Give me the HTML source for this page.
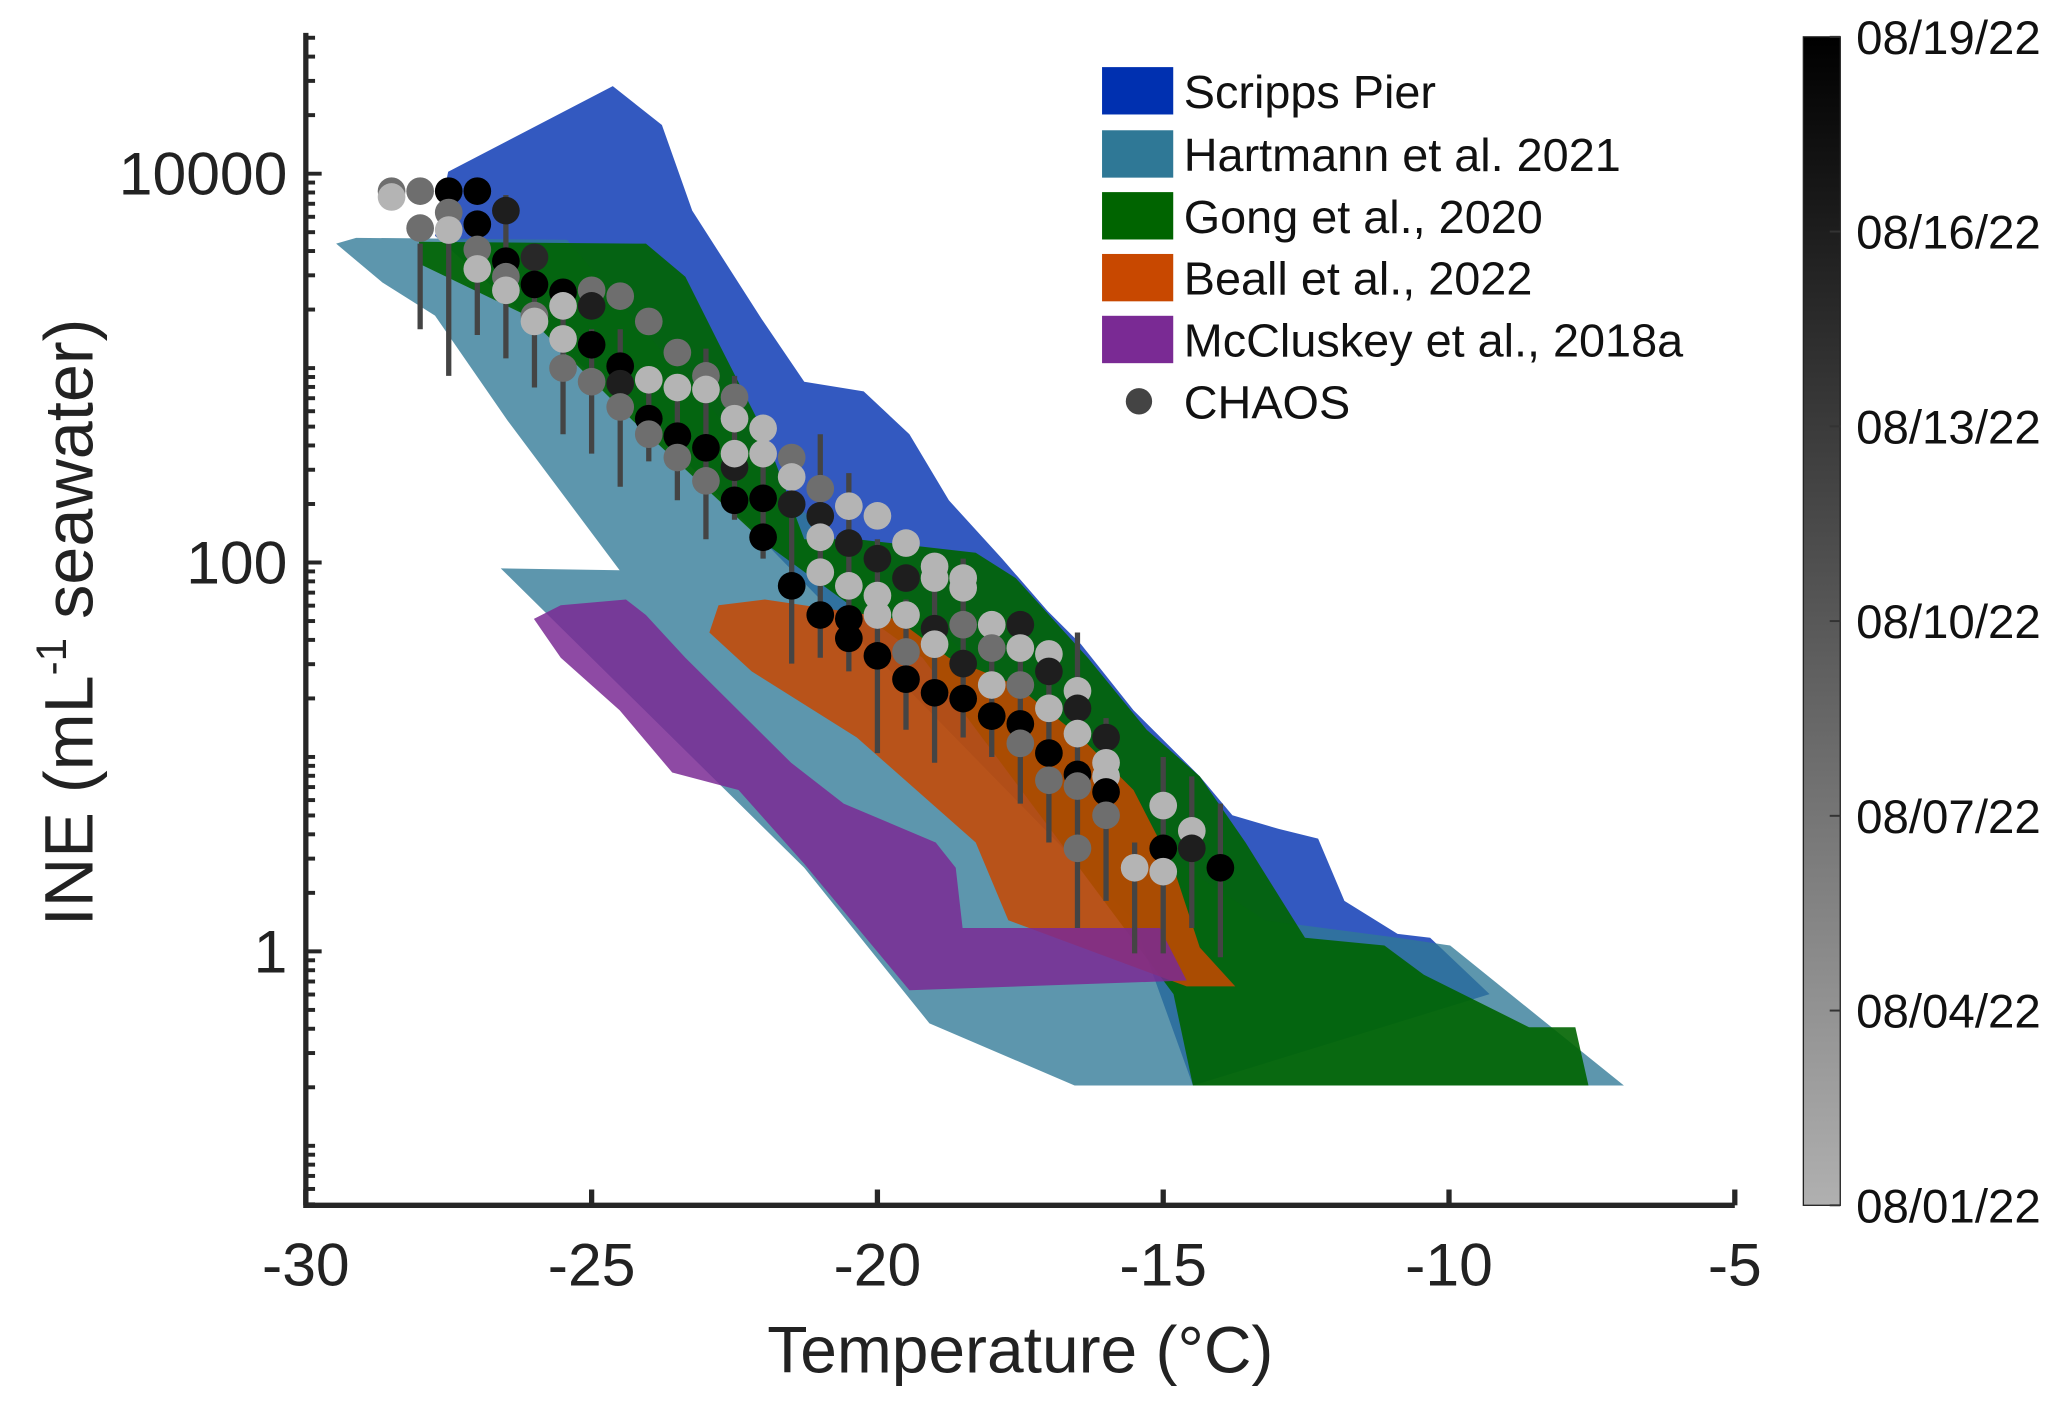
<!DOCTYPE html>
<html><head><meta charset="utf-8"><style>
html,body{margin:0;padding:0;background:#fff;}
svg{display:block;font-family:"Liberation Sans",Arial,sans-serif;}
</style></head><body>
<svg id="chart" width="2067" height="1404" viewBox="0 0 1568 1067" preserveAspectRatio="none" xmlns="http://www.w3.org/2000/svg">
<g id="regions"></g>
<g id="bars"></g>
<g id="points"></g>
<g id="axes"></g>
<g font-size="35.5" fill="#111">
 <rect x="836" y="51" width="54" height="36" fill="#0030b0"/>
 <text x="898" y="82">Scripps Pier</text>
 <rect x="836" y="99" width="54" height="36" fill="#2f7896"/>
 <text x="898" y="130">Hartmann et al. 2021</text>
 <rect x="836" y="146" width="54" height="36" fill="#006400"/>
 <text x="898" y="177">Gong et al., 2020</text>
 <rect x="836" y="193" width="54" height="36" fill="#c84800"/>
 <text x="898" y="224">Beall et al., 2022</text>
 <rect x="836" y="240" width="54" height="36" fill="#7a2a94"/>
 <text x="898" y="271">McCluskey et al., 2018a</text>
 <circle cx="864" cy="305" r="10" fill="#444"/>
 <text x="898" y="318">CHAOS</text>
</g>
<defs><linearGradient id="cbg" x1="0" y1="1" x2="0" y2="0"><stop offset="0" stop-color="#b0b0b0"/><stop offset="1" stop-color="#000"/></linearGradient></defs>
<g id="colorbar">
 <rect x="1368" y="28" width="28" height="888" fill="url(#cbg)" stroke="#222" stroke-width="1"/>
</g>
</svg>
<script>
const NS="http://www.w3.org/2000/svg";
// axis domains
const xDomain=[-30,-5];
const yLogDomain=[-1.306,4.724];
const xTicks=[-30,-25,-20,-15,-10,-5];
const yTicks=[1,100,10000];
const yTickLabels=["1","100","10000"];
const cbLabels=["08/01/22","08/04/22","08/07/22","08/10/22","08/13/22","08/16/22","08/19/22"];
// region polygons: temperature (°C) and log10(INE)
const scrippsT=[-27.51,-24.63,-23.77,-23.24,-22.02,-21.28,-20.24,-19.44,-18.75,-17.82,-17.02,-16.44,-15.52,-14.36,-13.79,-12.98,-12.29,-11.83,-10.90,-10.33,-9.29,-14.48,-15.52,-23.82,-27.74];
const scrippsL=[4.01,4.45,4.25,3.81,3.25,2.93,2.88,2.66,2.32,2.02,1.75,1.58,1.24,0.90,0.70,0.63,0.58,0.26,0.09,0.07,-0.22,-0.69,0.16,2.66,3.68];
const hartT=[-29.47,-29.12,-25.43,-24.51,-21.51,-17.82,-15.29,-13.22,-10.90,-9.98,-6.94,-16.55,-19.09,-21.28,-26.59,-24.51,-26.47,-27.74,-28.66];
const hartL=[3.64,3.67,3.66,3.34,2.32,1.37,0.56,0.16,0.07,0.03,-0.69,-0.69,-0.37,0.43,1.97,1.96,2.73,3.27,3.44];
const gongT=[-28.02,-24.05,-23.36,-22.78,-21.97,-21.28,-20.36,-18.28,-17.58,-16.32,-15.29,-14.36,-13.56,-12.52,-11.13,-10.44,-8.60,-7.79,-7.56,-14.48,-14.82,-19.21,-21.97,-24.28,-26.13,-27.97];
const gongL=[3.65,3.64,3.47,3.13,2.66,2.12,2.12,2.05,1.92,1.51,1.14,0.90,0.56,0.07,0.03,-0.12,-0.39,-0.39,-0.69,-0.69,-0.22,1.51,2.10,2.73,3.27,3.53];
const beallT=[-22.78,-21.97,-19.67,-18.75,-17.58,-16.44,-15.52,-14.82,-14.36,-13.74,-14.59,-17.71,-18.28,-20.36,-22.20,-22.94];
const beallL=[1.78,1.81,1.71,1.51,1.37,1.10,0.83,0.43,0.02,-0.18,-0.18,0.16,0.56,1.10,1.44,1.64];
const mccT=[-26.01,-25.54,-24.40,-24.05,-23.36,-21.51,-20.59,-18.98,-18.63,-18.51,-15.06,-14.59,-19.44,-21.28,-22.43,-23.59,-24.51,-25.54];
const mccL=[1.71,1.78,1.81,1.73,1.51,0.97,0.76,0.56,0.43,0.12,0.12,-0.15,-0.20,0.45,0.83,0.92,1.24,1.51];
// CHAOS error-bar columns
const barT=[-28,-27.5,-27,-26.5,-26,-25.5,-25,-24.5,-24,-23.5,-23,-22.5,-22,-21.5,-21,-20.5,-20,-19.5,-19,-18.5,-18,-17.5,-17,-16.5,-16,-15.5,-15,-14.5,-14];
const barHi=[3.64,3.71,3.74,3.89,3.51,3.27,3.20,3.20,2.93,2.86,3.10,2.96,2.59,2.52,2.66,2.46,2.12,1.81,2.05,2.02,1.51,1.58,1.54,1.64,1.20,0.56,1.00,0.90,0.76];
const barLo=[3.20,2.96,3.17,3.05,2.90,2.66,2.56,2.39,2.52,2.32,2.12,2.22,2.02,1.48,1.51,1.44,1.02,1.14,0.97,1.10,1.00,0.76,0.56,0.12,0.26,-0.01,-0.01,0.12,-0.03];
// CHAOS points: temperature, log10(INE), date fraction (0=08/01, 1=08/19)
const ptT=[-28.5,-28.5,-28,-28,-27.5,-27.5,-27.5,-27,-27,-27,-27,-26.5,-26.5,-26.5,-26.5,-26,-26,-26,-26,-25.5,-25.5,-25.5,-25.5,-25,-25,-25,-25,-24.5,-24.5,-24.5,-24.5,-24,-24,-24,-24,-23.5,-23.5,-23.5,-23.5,-23,-23,-23,-23,-22.5,-22.5,-22.5,-22.5,-22.5,-22,-22,-22,-22,-21.5,-21.5,-21.5,-21.5,-21,-21,-21,-21,-21,-20.5,-20.5,-20.5,-20.5,-20.5,-20,-20,-20,-20,-20,-19.5,-19.5,-19.5,-19.5,-19.5,-19,-19,-19,-19,-19,-18.5,-18.5,-18.5,-18.5,-18.5,-18,-18,-18,-18,-17.5,-17.5,-17.5,-17.5,-17.5,-17,-17,-17,-17,-17,-16.5,-16.5,-16.5,-16.5,-16.5,-16.5,-16,-16,-16,-16,-16,-15.5,-15,-15,-15,-14.5,-14.5,-14];
const ptL=[3.91,3.88,3.91,3.72,3.91,3.80,3.71,3.91,3.74,3.61,3.51,3.81,3.55,3.47,3.40,3.57,3.43,3.27,3.24,3.39,3.32,3.15,3.00,3.40,3.32,3.12,2.93,3.37,3.01,2.92,2.80,3.24,2.94,2.74,2.66,3.08,2.90,2.65,2.54,2.96,2.89,2.59,2.42,2.85,2.74,2.49,2.56,2.32,2.69,2.56,2.33,2.13,2.54,2.44,2.30,1.88,2.38,2.24,2.13,1.95,1.73,2.29,2.10,1.88,1.71,1.61,2.24,2.02,1.83,1.73,1.52,2.10,1.92,1.73,1.54,1.40,1.98,1.92,1.66,1.58,1.33,1.92,1.87,1.68,1.48,1.30,1.68,1.56,1.37,1.21,1.68,1.56,1.37,1.17,1.07,1.53,1.44,1.25,1.02,0.88,1.34,1.25,1.12,0.91,0.85,0.53,1.10,0.97,0.90,0.82,0.70,0.43,0.75,0.53,0.41,0.62,0.53,0.43];
const ptD=[0.45,0.1,0.45,0.45,1,0.45,0.1,1,1,0.45,0.1,0.85,1,0.45,0.1,0.8,1,0.45,0.1,1,0.1,0.1,0.45,0.45,0.85,1,0.45,0.45,1,0.85,0.45,0.45,0.1,1,0.45,0.45,0.1,1,0.45,0.45,0.1,1,0.45,0.45,0.1,0.85,0.1,1,0.1,0.1,1,1,0.45,0.1,0.85,1,0.45,0.85,0.1,0.1,1,0.1,0.85,0.1,1,1,0.1,0.85,0.1,0.1,1,0.1,0.85,0.1,0.45,1,0.1,0.1,0.85,0.1,1,0.1,0.1,0.45,0.85,1,0.1,0.45,0.1,1,0.85,0.1,0.45,1,0.45,0.1,0.85,0.1,1,0.45,0.1,0.85,0.1,1,0.45,0.45,0.85,0.1,0.1,1,0.45,0.1,0.1,1,0.1,0.1,0.85,1,0.1,0.85,1,0.85];

const X0=232,X1=1316,Y0=916,Y1=25;
function xs(t){return X0+(t-xDomain[0])/(xDomain[1]-xDomain[0])*(X1-X0);}
function ys(l){return Y0-(l-yLogDomain[0])/(yLogDomain[1]-yLogDomain[0])*(Y0-Y1);}
function mk(tag,attrs,parent){const e=document.createElementNS(NS,tag);for(const k in attrs)e.setAttribute(k,attrs[k]);parent.appendChild(e);return e;}

const gRegions=document.getElementById('regions');
function poly(T,L,fill,op,name){
  const p=mk('polygon',{points:T.map((t,i)=>xs(t)+','+ys(L[i])).join(' '),fill:fill,'fill-opacity':op},gRegions);
  
  
}
poly(scrippsT,scrippsL,'#0030b0',0.8,'region-scripps-pier');
poly(hartT,hartL,'#2f7896',0.78,'region-hartmann-2021');
poly(gongT,gongL,'#006400',0.9,'region-gong-2020');
poly(beallT,beallL,'#c84800',0.85,'region-beall-2022');
poly(mccT,mccL,'#7a2a94',0.85,'region-mccluskey-2018a');

const gBars=document.getElementById('bars');
barT.forEach((t,i)=>{
  const l=mk('line',{x1:xs(t),x2:xs(t),y1:ys(barHi[i]),y2:ys(barLo[i]),stroke:'#444','stroke-width':4},gBars);
  
  
});
const gPts=document.getElementById('points');
ptT.forEach((t,i)=>{
  const g=Math.round(200*(1-ptD[i]));
  const c=mk('circle',{cx:xs(t),cy:ys(ptL[i]),r:10.5,fill:'rgb('+g+','+g+','+g+')'},gPts);
  
  
});

const gAxes=document.getElementById('axes');
const ax=mk('path',{d:'M'+X0+','+Y1+' V'+Y0+' H'+X1,fill:'none',stroke:'#262626','stroke-width':4},gAxes);


xTicks.forEach(t=>{
  const tk=mk('line',{x1:xs(t),x2:xs(t),y1:Y0,y2:Y0-12,stroke:'#262626','stroke-width':4},gAxes);
  
  
  const tx=mk('text',{x:xs(t),y:977,'text-anchor':'middle','font-size':46,fill:'#222'},gAxes);
  tx.textContent=String(t);
  
  
});
for(let d=-2;d<=4;d++){for(let m=1;m<=9;m++){
  const l=d+Math.log10(m);
  if(l<yLogDomain[0]||l>yLogDomain[1])continue;
  const major=(m===1&&d%2===0);
  const tk=mk('line',{x1:X0,x2:X0+(major?12:7),y1:ys(l),y2:ys(l),stroke:'#262626','stroke-width':3},gAxes);
  
  
}}
yTicks.forEach((v,i)=>{
  const tx=mk('text',{x:218,y:ys(Math.log10(v))+16,'text-anchor':'end','font-size':46,fill:'#222'},gAxes);
  tx.textContent=yTickLabels[i];
  
  
});
const xt=mk('text',{x:774,y:1043,'text-anchor':'middle','font-size':50,fill:'#222'},gAxes);
xt.textContent='Temperature (°C)';


const yt=mk('text',{transform:'translate(70,473) rotate(-90)','text-anchor':'middle','font-size':52,fill:'#222'},gAxes);


const ts1=mk('tspan',{},yt); ts1.textContent='INE (mL';
const ts2=mk('tspan',{dy:-20,'font-size':32},yt); ts2.textContent='-1';
const ts3=mk('tspan',{dy:20},yt); ts3.textContent=' seawater)';

const gCb=document.getElementById('colorbar');
cbLabels.forEach((s,i)=>{
  const y=916-i*888/(cbLabels.length-1);
  const tk=mk('line',{x1:1396,x2:1388,y1:y,y2:y,stroke:'#333','stroke-width':1.5},gCb);
  
  
  const tx=mk('text',{x:1408,y:y+13,'font-size':36,fill:'#111'},gCb);
  tx.textContent=s;
  
  
});
</script>
</body></html>
